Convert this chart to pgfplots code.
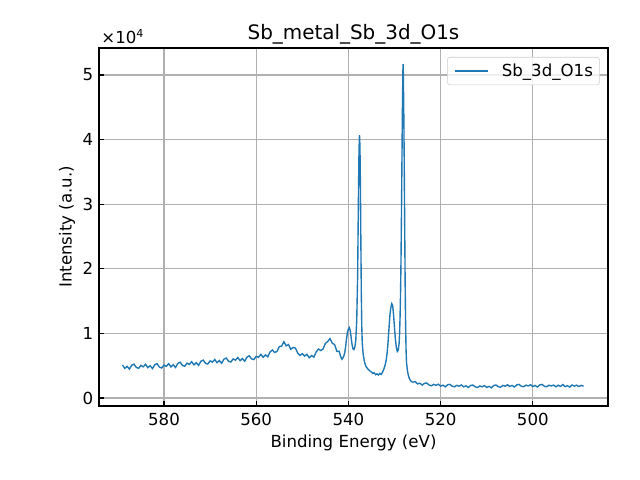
\documentclass[border=0pt]{standalone}
\usepackage{fontspec}
\setmainfont{DejaVu Sans}
\usepackage{pgfplots}
\pgfplotsset{compat=1.18}
\definecolor{c0}{HTML}{1F77B4}
\definecolor{gridc}{HTML}{B0B0B0}
\definecolor{legc}{HTML}{CCCCCC}
\begin{document}
\fontsize{12}{14}\selectfont
\begin{tikzpicture}
\begin{axis}[
  name=ax,
  scale only axis,
  width=5.09in, height=3.58in,
  x dir=reverse,
  xmin=483.7, xmax=594.1,
  ymin=-1240, ymax=54180,
  xtick={500,520,540,560,580},
  ytick={0,10000,20000,30000,40000,50000},
  yticklabels={0,1,2,3,4,5},
  scaled y ticks=false,
  tick align=inside,
  xtick pos=bottom, ytick pos=left,
  major tick length=3.5pt,
  grid=major,
  grid style={gridc, line width=0.8pt},
  axis line style={line width=0.8pt},
  tick style={black, line width=0.8pt},
  /pgf/number format/assume math mode=true,
  tick label style={font=\fontsize{12}{14}\selectfont},
  xticklabel style={yshift=-1pt},
  label style={font=\fontsize{12}{14}\selectfont},
  xlabel={Binding Energy (eV)},
  ylabel={Intensity (a.u.)},
  xlabel style={at={(axis description cs:0.5,-0.1030)}, anchor=center},
  ylabel style={at={(axis description cs:-0.0629,0.5)}, anchor=center},
  title={Sb\_metal\_Sb\_3d\_O1s},
  title style={font=\fontsize{14.4}{16}\selectfont, at={(axis description cs:0.5,1)}, anchor=base},
  legend style={at={(axis description cs:0.984,0.975)}, anchor=north east, draw=legc, rounded corners=2pt, fill=white, fill opacity=0.8, text opacity=1, font=\fontsize{12}{14}\selectfont, inner xsep=4.8pt, inner ysep=4.5pt, nodes={inner sep=0pt}, column sep=9.6pt},
  legend cell align=left,
  legend image code/.code={\draw[#1] (0pt,0pt) -- (24pt,0pt);},
]
\addplot[c0, line width=1pt, mark=none] coordinates {
(589.0,5100) (588.5,4585) (588.0,4900) (587.5,4465) (587.0,5075) (586.5,5235) (586.0,4725) (585.5,4590) (585.0,5050) (584.5,4830)
(584.0,5210) (583.5,4690) (583.0,4995) (582.5,4550) (582.0,5155) (581.5,5310) (581.0,4790) (580.5,4645) (580.0,5100) (579.5,4905)
(579.0,5310) (578.5,4815) (578.0,5145) (577.5,4725) (577.0,5355) (576.5,5535) (576.0,5040) (575.5,4920) (575.0,5400) (574.5,5210)
(574.0,5620) (573.5,5130) (573.0,5465) (572.5,5050) (572.0,5685) (571.5,5870) (571.0,5380) (570.5,5265) (570.0,5750) (569.5,5555)
(569.0,5960) (568.5,5465) (568.0,5795) (567.5,5375) (567.0,6005) (566.5,6185) (566.0,5690) (565.5,5570) (565.0,6050) (564.5,5860)
(564.0,6270) (563.5,5775) (563.0,6110) (562.5,5690) (562.0,6325) (561.5,6525) (561.0,6050) (560.5,5950) (560.0,6450) (559.5,6300)
(559.0,6750) (558.5,6300) (558.0,6675) (557.5,6375) (557.0,7125) (556.5,7425) (556.0,7050) (555.5,7200) (555.0,7950) (554.5,8025)
(554.0,8700) (553.5,8075) (553.0,8275) (552.5,7525) (552.0,7825) (551.5,7725) (551.0,6950) (550.5,6600) (550.0,6850) (549.5,6500)
(549.0,6750) (548.5,6225) (548.0,6575) (547.5,6325) (547.0,7125) (546.5,7575) (546.0,7350) (545.5,7600) (545.0,8450) (544.5,8725)
(544.0,9200) (543.5,8475) (543.0,8275) (542.5,7225) (542.0,7225)
(541.8,6700) (541.6,6300) (541.4,6000) (541.2,6200) (541.0,6500) (540.8,7000) (540.6,8000) (540.4,9200) (540.2,10200) (540.0,10700)
(539.8,10900) (539.6,10400) (539.4,9300) (539.2,8200) (539.0,7600) (538.8,7500) (538.6,7900) (538.4,9000) (538.2,12000) (538.0,19000)
(537.9,26000) (537.8,33000) (537.7,38500) (537.6,40700) (537.5,39000) (537.4,33000) (537.3,24000) (537.2,16000) (537.1,11000) (537.0,8500)
(536.8,6800) (536.6,5900) (536.4,5300) (536.2,4900) (536.0,4700) (535.8,4500) (535.5,4300) (535.2,4100) (535.0,4000) (534.7,3800)
(534.4,3900) (534.1,3600) (533.8,3750) (533.5,3550) (533.2,3800) (532.9,3650) (532.6,4000) (532.3,4500) (532.0,5200) (531.8,5900)
(531.6,7000) (531.4,8700) (531.2,10800) (531.0,12800) (530.8,14000) (530.6,14600) (530.4,14300) (530.2,12800) (530.0,10800) (529.8,9000)
(529.6,7800) (529.4,7200) (529.2,7400) (529.0,8500) (528.9,10000) (528.8,12500) (528.7,16000) (528.6,21000) (528.5,28000) (528.4,36000)
(528.3,44000) (528.2,50000) (528.15,51700) (528.1,50500) (528.0,45000) (527.9,37000) (527.8,27000) (527.7,18000) (527.6,11500) (527.5,7500)
(527.4,5500) (527.2,4200) (527.0,3500) (526.8,3050) (526.6,2750) (526.4,2600) (526.2,2500) (526.0,2450)
(525.5,2540) (525.0,2180) (524.5,2290) (524.0,2000) (523.5,2280) (523.0,2320) (522.5,2005) (522.0,1890) (521.5,2105) (521.0,1960)
(520.5,2135) (520.0,1830) (519.5,1980) (519.0,1730) (518.5,2040) (518.0,2110) (517.5,1820) (517.0,1730) (516.5,1960) (516.0,1830)
(515.5,2020) (515.0,1730) (514.5,1880) (514.0,1630) (513.5,1940) (513.0,2010) (512.5,1720) (512.0,1630) (511.5,1860) (511.0,1730)
(510.5,1920) (510.0,1630) (509.5,1805) (509.0,1580) (508.5,1915) (508.0,2010) (507.5,1745) (507.0,1680) (506.5,1935) (506.0,1830)
(505.5,2045) (505.0,1780) (504.5,1940) (504.0,1700) (503.5,2020) (503.0,2100) (502.5,1820) (502.0,1740) (501.5,1980) (501.0,1860)
(500.5,2060) (500.0,1780) (499.5,1940) (499.0,1700) (498.5,2020) (498.0,2100) (497.5,1820) (497.0,1740) (496.5,1980) (496.0,1860)
(495.5,2000) (495.0,1720) (494.5,1980) (494.0,1800) (493.5,2080) (493.0,1760) (492.5,1900) (492.0,1690) (491.5,2010) (491.0,1840)
(490.5,1990) (490.0,1760) (489.5,1960) (489.0,1820)
};
\addlegendentry{Sb\_3d\_O1s}
\end{axis}
\node[anchor=base west, inner sep=0pt, font=\fontsize{12}{14}\selectfont] at ([xshift=1.5pt,yshift=3.4pt]ax.north west) {×10\textsuperscript{4}};
\pgfresetboundingbox
\path (ax.south west) ++(-0.99in,-0.74in) rectangle ++(6.4in,4.8in);
\end{tikzpicture}
\end{document}
